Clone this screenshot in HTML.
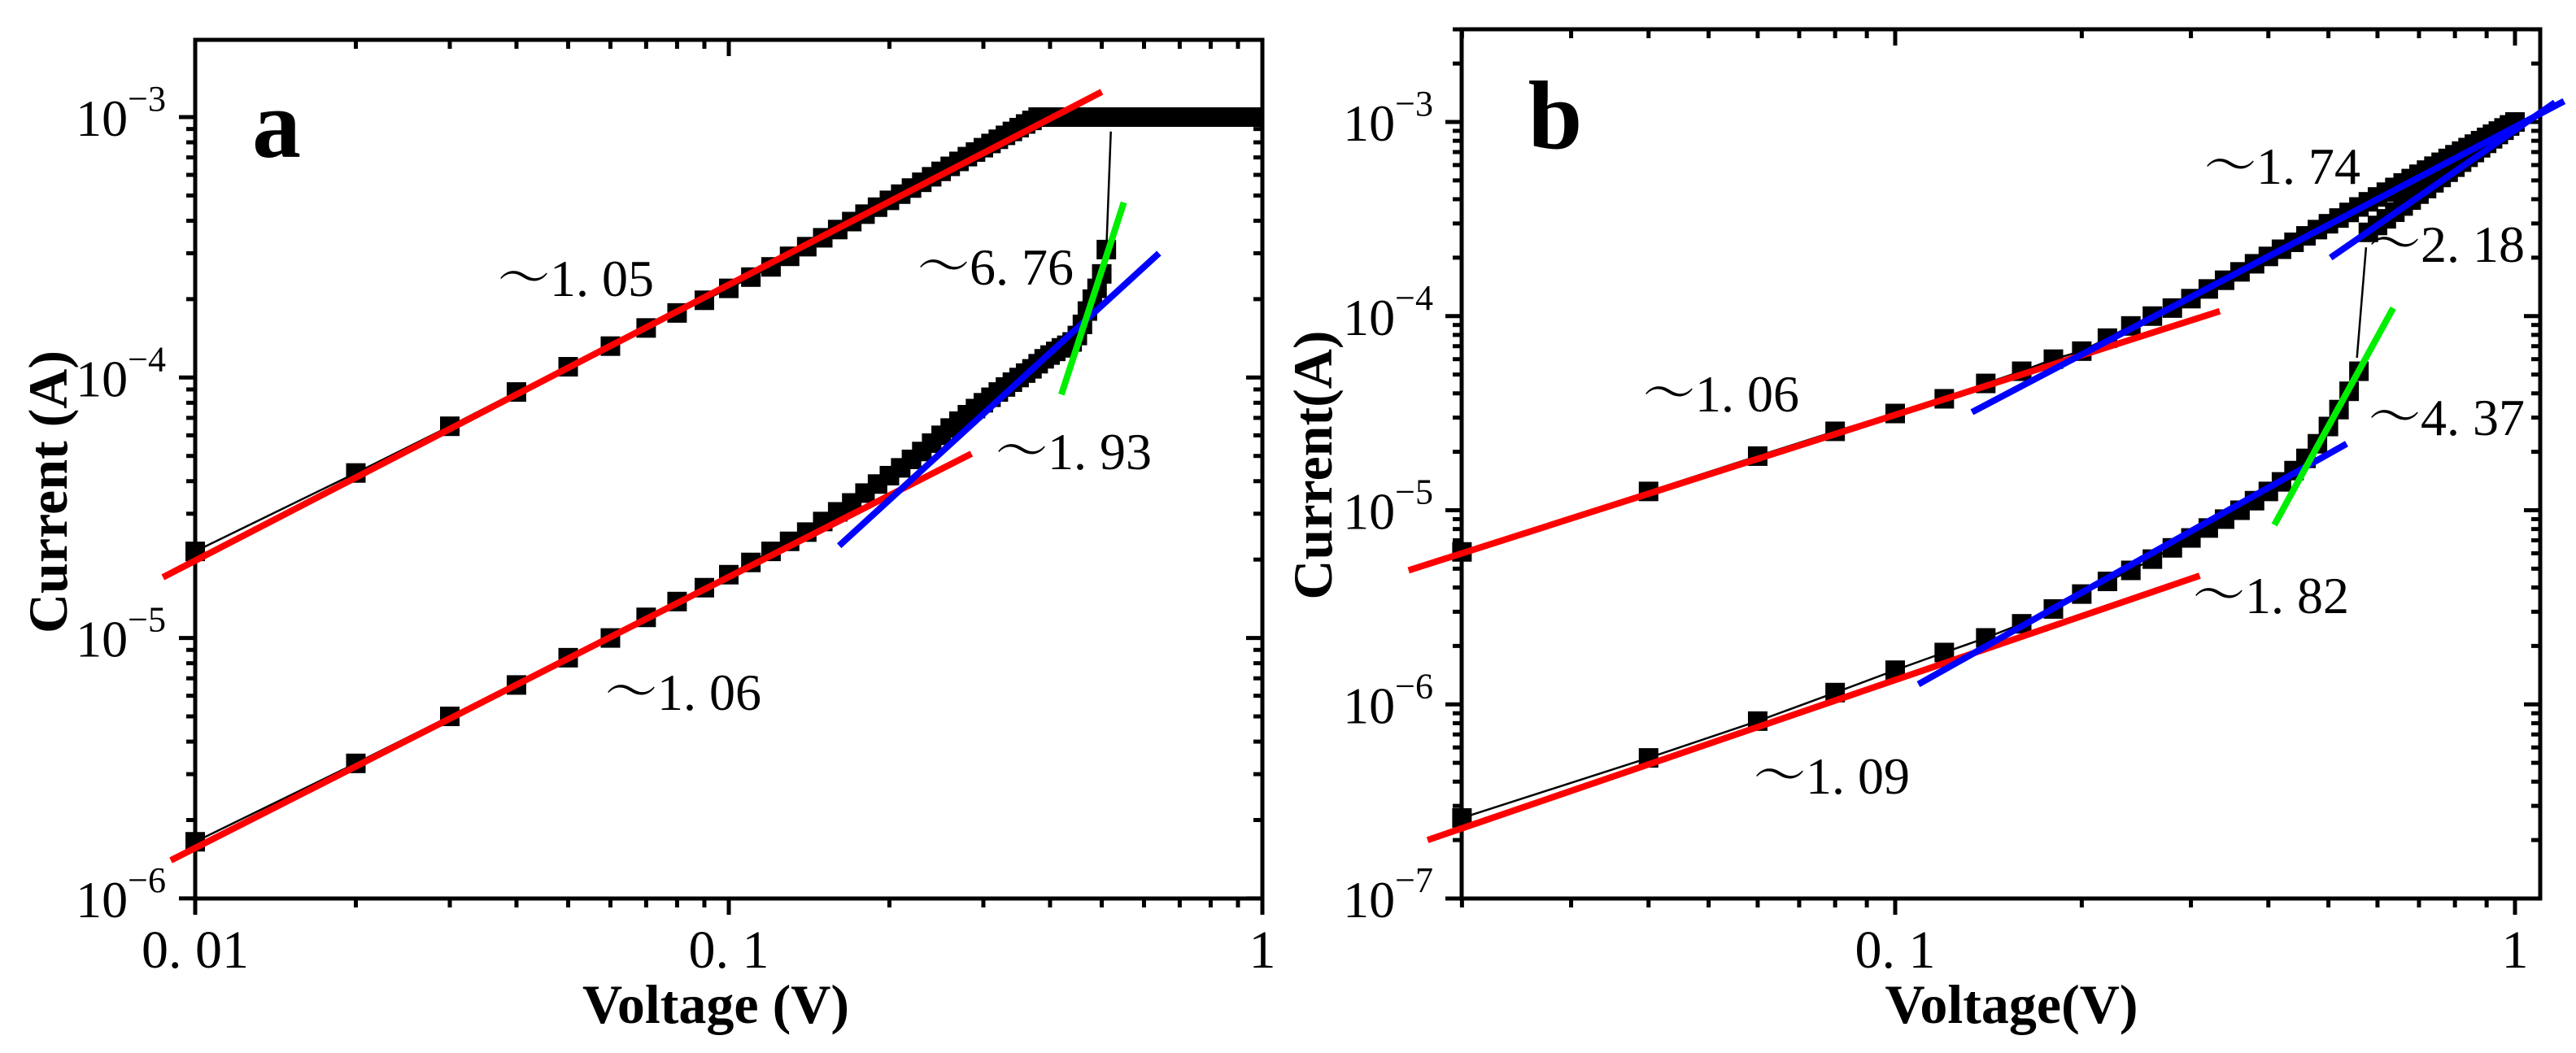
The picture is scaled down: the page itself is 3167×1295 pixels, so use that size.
<!DOCTYPE html>
<html><head><meta charset="utf-8"><style>
html,body{margin:0;padding:0;background:#fff;}
svg{display:block;}
text{font-family:"Liberation Serif","Noto Serif CJK SC",serif;fill:#000;}
</style></head><body>
<svg id="fig" width="3167" height="1295" viewBox="0 0 3167 1295" xmlns="http://www.w3.org/2000/svg">
<defs>
<clipPath id="clipA"><rect x="226" y="35" width="1328" height="1084"/></clipPath>
<clipPath id="clipB"><rect x="1783" y="22" width="1342" height="1097"/></clipPath>
</defs>
</svg>
<script>
// ---------- panel a data ----------
const aUpperV = [0.01,0.02,0.03,0.04,0.05,0.06,0.07,0.08,0.09,0.10,0.11,0.12,0.13,0.14,0.15,0.16,0.17,0.18,0.19,0.20,0.21,0.22,0.23,0.24,0.25,0.26,0.27,0.28,0.29,0.30,0.31,0.32,0.33,0.34,0.35,0.36,0.37,0.38,0.39,0.40,0.41,0.42,0.43,0.44,0.45,0.46,0.47,0.48,0.49,0.50,0.51,0.52,0.53,0.54,0.55,0.56,0.57,0.58,0.59,0.60,0.61,0.62,0.63,0.64,0.65,0.66,0.67,0.68,0.69,0.70,0.71,0.72,0.73,0.74,0.75,0.76,0.77,0.78,0.79,0.80,0.81,0.82,0.83,0.84,0.85,0.86,0.87,0.88,0.89,0.90,0.91,0.92,0.93,0.94,0.95,0.96,0.97,0.98,0.99,1.00];
const aUpperI = [2.15e-5,4.3e-5,6.5e-5,8.8e-5,1.1e-4,1.32e-4,1.55e-4,1.77e-4,1.98e-4,2.2e-4,2.43e-4,2.66e-4,2.92e-4,3.18e-4,3.44e-4,3.70e-4,3.97e-4,4.24e-4,4.51e-4,4.79e-4,5.06e-4,5.34e-4,5.62e-4,5.90e-4,6.19e-4,6.47e-4,6.76e-4,7.05e-4,7.34e-4,7.63e-4,7.92e-4,8.22e-4,8.51e-4,8.81e-4,9.11e-4,9.41e-4,9.71e-4,1e-3,1e-3,1e-3,1e-3,1e-3,1e-3,1e-3,1e-3,1e-3,1e-3,1e-3,1e-3,1e-3,1e-3,1e-3,1e-3,1e-3,1e-3,1e-3,1e-3,1e-3,1e-3,1e-3,1e-3,1e-3,1e-3,1e-3,1e-3,1e-3,1e-3,1e-3,1e-3,1e-3,1e-3,1e-3,1e-3,1e-3,1e-3,1e-3,1e-3,1e-3,1e-3,1e-3,1e-3,1e-3,1e-3,1e-3,1e-3,1e-3,1e-3,1e-3,1e-3,1e-3,1e-3,1e-3,1e-3,1e-3,1e-3,1e-3,1e-3,1e-3,1e-3,1e-3];
const aLowerV = [0.01,0.02,0.03,0.04,0.05,0.06,0.07,0.08,0.09,0.10,0.11,0.12,0.13,0.14,0.15,0.16,0.17,0.18,0.19,0.20,0.21,0.22,0.23,0.24,0.25,0.26,0.27,0.28,0.29,0.30,0.31,0.32,0.33,0.34,0.35,0.36,0.37,0.38,0.39,0.40,0.41,0.42,0.43,0.44,0.45,0.46,0.47,0.48,0.49,0.50,0.51];
const aLowerI = [1.65e-6,3.3e-6,5.0e-6,6.6e-6,8.4e-6,1.0e-5,1.2e-5,1.38e-5,1.56e-5,1.75e-5,1.95e-5,2.15e-5,2.35e-5,2.55e-5,2.8e-5,3.05e-5,3.3e-5,3.6e-5,3.9e-5,4.2e-5,4.5e-5,4.85e-5,5.2e-5,5.6e-5,6.0e-5,6.4e-5,6.8e-5,7.2e-5,7.6e-5,8.0e-5,8.4e-5,8.8e-5,9.2e-5,9.6e-5,1.0e-4,1.04e-4,1.08e-4,1.13e-4,1.18e-4,1.22e-4,1.26e-4,1.3e-4,1.33e-4,1.37e-4,1.45e-4,1.6e-4,1.8e-4,2.0e-4,2.2e-4,2.5e-4,3.1e-4];
const aJumpV = [0.51,0.52];
const aJumpI = [3.1e-4,8.8e-4];
const aFitRedUpper = [0.0087,1.71e-5,0.50,1.25e-3];
const aFitRedLower = [0.0090,1.4e-6,0.285,5.1e-5];
const aFitBlue = [0.161,2.26e-5,0.64,3.0e-4];
const aFitGreen = [0.42,8.6e-5,0.55,4.7e-4];
const aXTickLabels = ["0. 01","0. 1","1"];
const aYTickExps = ["−3","−4","−5","−6"];

// ---------- panel b data ----------
const bLowerV = [0.02,0.04,0.06,0.08,0.10,0.12,0.14,0.16,0.18,0.20,0.22,0.24,0.26,0.28,0.30,0.32,0.34,0.36,0.38,0.40,0.42,0.44,0.46,0.48,0.50,0.52,0.54,0.56];
const bLowerI = [2.6e-7,5.3e-7,8.2e-7,1.15e-6,1.5e-6,1.85e-6,2.2e-6,2.6e-6,3.1e-6,3.7e-6,4.3e-6,4.9e-6,5.6e-6,6.4e-6,7.2e-6,8.1e-6,9.0e-6,1.0e-5,1.12e-5,1.25e-5,1.4e-5,1.6e-5,1.85e-5,2.2e-5,2.7e-5,3.3e-5,4.1e-5,5.2e-5];
const bUpperV = [0.02,0.04,0.06,0.08,0.10,0.12,0.14,0.16,0.18,0.20,0.22,0.24,0.26,0.28,0.30,0.32,0.34,0.36,0.38,0.40,0.42,0.44,0.46,0.48,0.50,0.52,0.54,0.56,0.58,0.60,0.62,0.64,0.66,0.68,0.70,0.72,0.74,0.76,0.78,0.80,0.82,0.84,0.86,0.88,0.90,0.92,0.94,0.96,0.98,1.00];
const bUpperI = [6.1e-6,1.25e-5,1.9e-5,2.55e-5,3.15e-5,3.75e-5,4.5e-5,5.2e-5,6.0e-5,6.6e-5,7.7e-5,8.9e-5,1.0e-4,1.1e-4,1.23e-4,1.38e-4,1.53e-4,1.69e-4,1.86e-4,2.03e-4,2.21e-4,2.40e-4,2.59e-4,2.79e-4,2.99e-4,3.20e-4,3.42e-4,3.65e-4,3.88e-4,4.11e-4,4.35e-4,4.60e-4,4.85e-4,5.11e-4,5.38e-4,5.65e-4,5.92e-4,6.20e-4,6.49e-4,6.78e-4,7.08e-4,7.38e-4,7.69e-4,8.01e-4,8.33e-4,8.65e-4,8.98e-4,9.32e-4,9.66e-4,1.0e-3];
const bReturnV = [1.00,0.98,0.96,0.94,0.92,0.90,0.88,0.86,0.84,0.82,0.80,0.78,0.76,0.74,0.72,0.70,0.68,0.66,0.64,0.62,0.60,0.58];
const bReturnI = [1.0e-3,9.53e-4,9.07e-4,8.62e-4,8.19e-4,7.76e-4,7.36e-4,6.96e-4,6.58e-4,6.21e-4,5.85e-4,5.51e-4,5.18e-4,4.86e-4,4.54e-4,4.25e-4,3.96e-4,3.69e-4,3.43e-4,3.17e-4,2.93e-4,2.70e-4];
const bJumpV = [0.575,0.556];
const bJumpI = [2.26e-4,6.1e-5];
const bFitRedUpper = [0.0164,4.9e-6,0.334,1.06e-4];
const bFitRedLower = [0.0176,2.0e-7,0.31,4.6e-6];
const bFitBlueUpper = [0.133,3.2e-5,1.2,1.28e-3];
const bFitBlueReturn = [0.504,2.0e-4,1.16,1.26e-3];
const bFitBlueLower = [0.109,1.27e-6,0.535,2.2e-5];
const bFitGreen = [0.409,8.4e-6,0.636,1.1e-4];
const bXTickLabels = ["0. 1","1"];
const bYTickExps = ["−3","−4","−5","−6","−7"];

const NS = "http://www.w3.org/2000/svg";
const svg = document.getElementById('fig');
function mk(tag, attrs, parent){
  const e = document.createElementNS(NS, tag);
  for (const k in attrs) e.setAttribute(k, attrs[k]);
  (parent||svg).appendChild(e);
  return e;
}

const A = {x0:240, x1:1552, lx0:-2, yTop:49, yBot:1105, ly3:144, pxDec:320.3, xPxDec:656, clip:'url(#clipA)'};
A.X = v => A.x0 + (Math.log10(v) - A.lx0) * A.xPxDec;
A.Y = i => A.ly3 + (-3 - Math.log10(i)) * A.pxDec;
const B = {x0:1797, x1:3123, yTop:36, yBot:1105, ly3:150, pxDec:238.75, xPxDec:762, x1ref:3092, clip:'url(#clipB)'};
B.X = v => B.x1ref + Math.log10(v) * B.xPxDec;
B.Y = i => B.ly3 + (-3 - Math.log10(i)) * B.pxDec;

function frame(P, name){
  const g = mk('g', {});
  
  
  mk('rect', {x:P.x0, y:P.yTop, width:P.x1-P.x0, height:P.yBot-P.yTop, fill:'none', stroke:'#000', 'stroke-width':5}, g);
}
function xTicks(P, decades, name){
  const g = mk('g', {stroke:'#000','stroke-width':5});
  
  
  for (const d of decades){
    for (let m=1; m<=9; m++){
      const v = m*Math.pow(10,d);
      const x = P.X(v);
      if (x < P.x0-1 || x > P.x1+1) continue;
      const L = m===1 ? 20 : 11;
      mk('line',{x1:x,y1:P.yBot,x2:x,y2:P.yBot+L},g);
      mk('line',{x1:x,y1:P.yTop,x2:x,y2:P.yTop+L},g);
    }
  }
}
function yTicks(P, decades, name){
  const g = mk('g', {stroke:'#000','stroke-width':5});
  
  
  for (const d of decades){
    for (let m=1; m<=9; m++){
      const i = m*Math.pow(10,d);
      const y = P.Y(i);
      if (y < P.yTop-1 || y > P.yBot+1) continue;
      const L = m===1 ? 20 : 11;
      mk('line',{x1:P.x0-L,y1:y,x2:P.x0,y2:y},g);
      mk('line',{x1:P.x1-L,y1:y,x2:P.x1,y2:y},g);
    }
  }
}
function yLabels(P, exps, rightEdge, name){
  exps.forEach((e,k)=>{
    const y = P.ly3 + k*P.pxDec;
    const t = mk('text',{x:rightEdge, y:y+23, 'text-anchor':'end','font-size':64});
    
    
    t.appendChild(document.createTextNode('10'));
    const s = mk('tspan',{'font-size':44, dy:-31}, t);
    s.textContent = e;
  });
}
function xLabels(P, vals, labels, name){
  labels.forEach((lab,k)=>{
    const t = mk('text',{x:P.X(vals[k]), y:1190, 'text-anchor':'middle','font-size':66});
    
    
    t.textContent = lab;
  });
}
function series(P, V, I, name, markers){
  const g = mk('g',{fill:'#000','clip-path':P.clip});
  
  
  const pts = V.map((v,k)=>P.X(v).toFixed(1)+','+P.Y(I[k]).toFixed(1)).join(' ');
  const pl = mk('polyline',{points:pts, fill:'none', stroke:'#000','stroke-width':2.5}, g);
  
  
  if (!markers) return;
  V.forEach((v,k)=>{
    const r = mk('rect',{x:P.X(v)-12, y:P.Y(I[k])-12, width:24, height:24}, g);
    
    
  });
}
function fit(P, f, color, name){
  const l = mk('line',{x1:P.X(f[0]),y1:P.Y(f[1]),x2:P.X(f[2]),y2:P.Y(f[3]),stroke:color,'stroke-width':8});
  
  
}
function note(x, y, txt, name){
  const t = mk('text',{x:x, y:y+22, 'font-size':64});
  
  
  t.textContent = txt;
}

// ---- Panel a ----
frame(A,'panel-a');
xTicks(A,[-3,-2,-1,0],'panel-a');
yTicks(A,[-7,-6,-5,-4,-3,-2],'panel-a');
yLabels(A, aYTickExps, 204, 'panel-a');
xLabels(A, [0.01,0.1,1], aXTickLabels, 'panel-a');
series(A, aUpperV, aUpperI, 'a-upper-series', true);
series(A, aLowerV, aLowerI, 'a-lower-series', true);
series(A, aJumpV, aJumpI, 'a-jump', false);
fit(A, aFitRedUpper, '#ff0000', 'a-fit-red-upper');
fit(A, aFitRedLower, '#ff0000', 'a-fit-red-lower');
fit(A, aFitBlue, '#0000ff', 'a-fit-blue');
fit(A, aFitGreen, '#00ee00', 'a-fit-green');
note(612, 342, '～1. 05', 'a-slope-1-05');
note(1128, 328, '～6. 76', 'a-slope-6-76');
note(1224, 555, '～1. 93', 'a-slope-1-93');
note(744, 851, '～1. 06', 'a-slope-1-06');

// ---- Panel b ----
frame(B,'panel-b');
xTicks(B,[-2,-1,0],'panel-b');
yTicks(B,[-8,-7,-6,-5,-4,-3],'panel-b');
yLabels(B, bYTickExps, 1762, 'panel-b');
xLabels(B, [0.1,1], bXTickLabels, 'panel-b');
series(B, bLowerV, bLowerI, 'b-lower-series', true);
series(B, bUpperV, bUpperI, 'b-upper-series', true);
series(B, bReturnV, bReturnI, 'b-return-series', true);
series(B, bJumpV, bJumpI, 'b-jump', false);
fit(B, bFitRedUpper, '#ff0000', 'b-fit-red-upper');
fit(B, bFitRedLower, '#ff0000', 'b-fit-red-lower');
fit(B, bFitBlueUpper, '#0000ff', 'b-fit-blue-upper');
fit(B, bFitBlueReturn, '#0000ff', 'b-fit-blue-return');
fit(B, bFitBlueLower, '#0000ff', 'b-fit-blue-lower');
fit(B, bFitGreen, '#00ee00', 'b-fit-green');
note(2710, 204, '～1. 74', 'b-slope-1-74');
note(2912, 300, '～2. 18', 'b-slope-2-18');
note(2020, 484, '～1. 06', 'b-slope-1-06');
note(2912, 513, '～4. 37', 'b-slope-4-37');
note(2696, 732, '～1. 82', 'b-slope-1-82');
note(2156, 954, '～1. 09', 'b-slope-1-09');

// ---- titles ----
function title(x,y,txt,size,name,rot){
  const t = mk('text',{x:x,y:y,'text-anchor':'middle','font-size':size,'font-weight':'bold'});
  if (rot) t.setAttribute('transform','rotate(-90 '+x+' '+y+')');
  
  
  t.textContent = txt;
}
title(880,1258,'Voltage (V)',68,'a-x-axis-title',false);
title(2473,1258,'Voltage(V)',68,'b-x-axis-title',false);
title(82,605,'Current (A)',68,'a-y-axis-title',true);
title(1637,572,'Current(A)',68,'b-y-axis-title',true);
title(340,193,'a',120,'panel-a-label',false);
title(1912,182,'b',120,'panel-b-label',false);
</script>
</body></html>
